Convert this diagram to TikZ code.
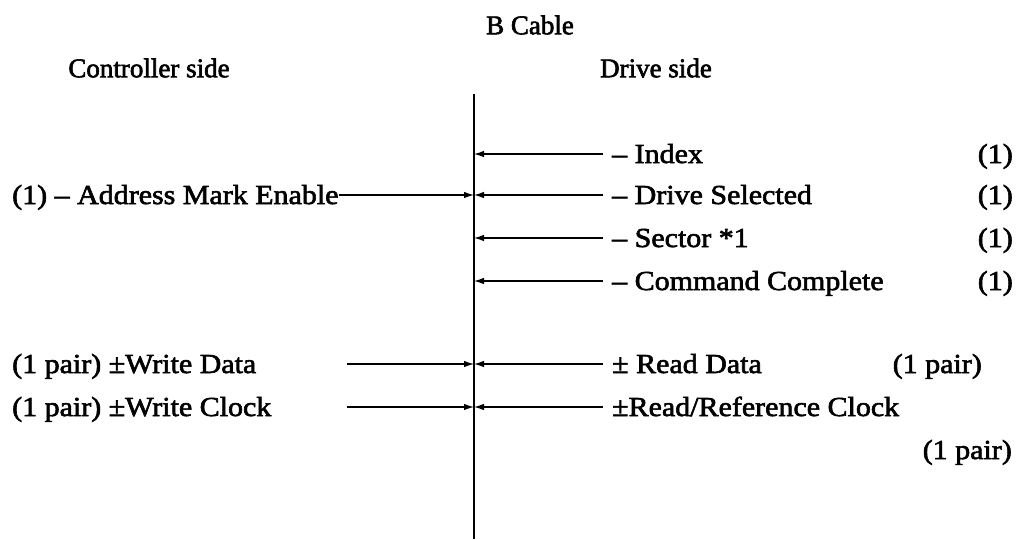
\documentclass[tikz,border=0pt]{standalone}
\usepackage{fontspec}
\setmainfont{Liberation Serif}
\newfontfamily\rowfont{Liberation Serif}[FakeStretch=1.09, FakeBold=2.2]
\newfontfamily\headfont{Liberation Serif}[FakeBold=2.2]
\usetikzlibrary{arrows.meta}
\begin{document}
\begin{tikzpicture}[x=1pt,y=-1pt,
  txt/.style={font=\rowfont\fontsize{27.5}{30}\selectfont, inner sep=0pt},
  head/.style={font=\headfont\fontsize{27}{30}\selectfont, inner sep=0pt},
  sig/.style={line width=1.2pt, -{Latex[length=10pt,width=6.5pt]}},
  busline/.style={line width=1.3pt}]
\useasboundingbox (0,0) rectangle (1029,539);
% headings
\node[head] (title) at (530,25) {B Cable};
\node[head] (ctrl) at (149,68) {Controller side};
\node[head] (drv) at (656,68) {Drive side};
% bus
\coordinate (bt) at (474,94);
\coordinate (bb) at (474,539);
\draw[busline] (bt) -- (bb);
% bus junctions
\coordinate (b1) at (474,154);
\coordinate (b2) at (474,195);
\coordinate (b3) at (474,238);
\coordinate (b4) at (474,281);
\coordinate (b5) at (474,364);
\coordinate (b6) at (474,407);
% right side texts
\node[txt, anchor=base west] (idx) at (612,163) {\textendash\ Index};
\node[txt, anchor=base east] (idxn) at (1013,163) {(1)};
\node[txt, anchor=base west] (dsel) at (612,204) {\textendash\ Drive Selected};
\node[txt, anchor=base east] (dseln) at (1013,204) {(1)};
\node[txt, anchor=base west] (sec) at (612,247) {\textendash\ Sector *1};
\node[txt, anchor=base east] (secn) at (1013,247) {(1)};
\node[txt, anchor=base west] (cmd) at (612,290) {\textendash\ Command Complete};
\node[txt, anchor=base east] (cmdn) at (1013,290) {(1)};
\node[txt, anchor=base west] (rd) at (612,373) {\textpm\ Read Data};
\node[txt, anchor=base east] (rdn) at (982,373) {(1 pair)};
\node[txt, anchor=base west] (rc) at (612,416) {\textpm Read/Reference Clock};
\node[txt, anchor=base east] (rcn) at (1012,459) {(1 pair)};
% left side texts
\node[txt, anchor=base west] (ame) at (12,204) {(1) \textendash\ Address Mark Enable};
\node[txt, anchor=base west] (wd) at (12,373) {(1 pair) \textpm Write Data};
\node[txt, anchor=base west] (wc) at (12,416) {(1 pair) \textpm Write Clock};
% line start points
\coordinate (s1) at (603,154);
\coordinate (s2) at (603,195);
\coordinate (s3) at (603,238);
\coordinate (s4) at (603,281);
\coordinate (s5) at (603,364);
\coordinate (s6) at (603,407);
\coordinate (l5) at (347,364);
\coordinate (l6) at (347,407);
% connectors
\draw[sig] (s1) -- (b1);
\draw[sig] (s2) -- (b2);
\draw[sig] (s3) -- (b3);
\draw[sig] (s4) -- (b4);
\draw[sig] (s5) -- (b5);
\draw[sig] (s6) -- (b6);
\draw[sig] (ame.east |- b2) -- (b2);
\draw[sig] (l5) -- (b5);
\draw[sig] (l6) -- (b6);
\end{tikzpicture}
\end{document}
